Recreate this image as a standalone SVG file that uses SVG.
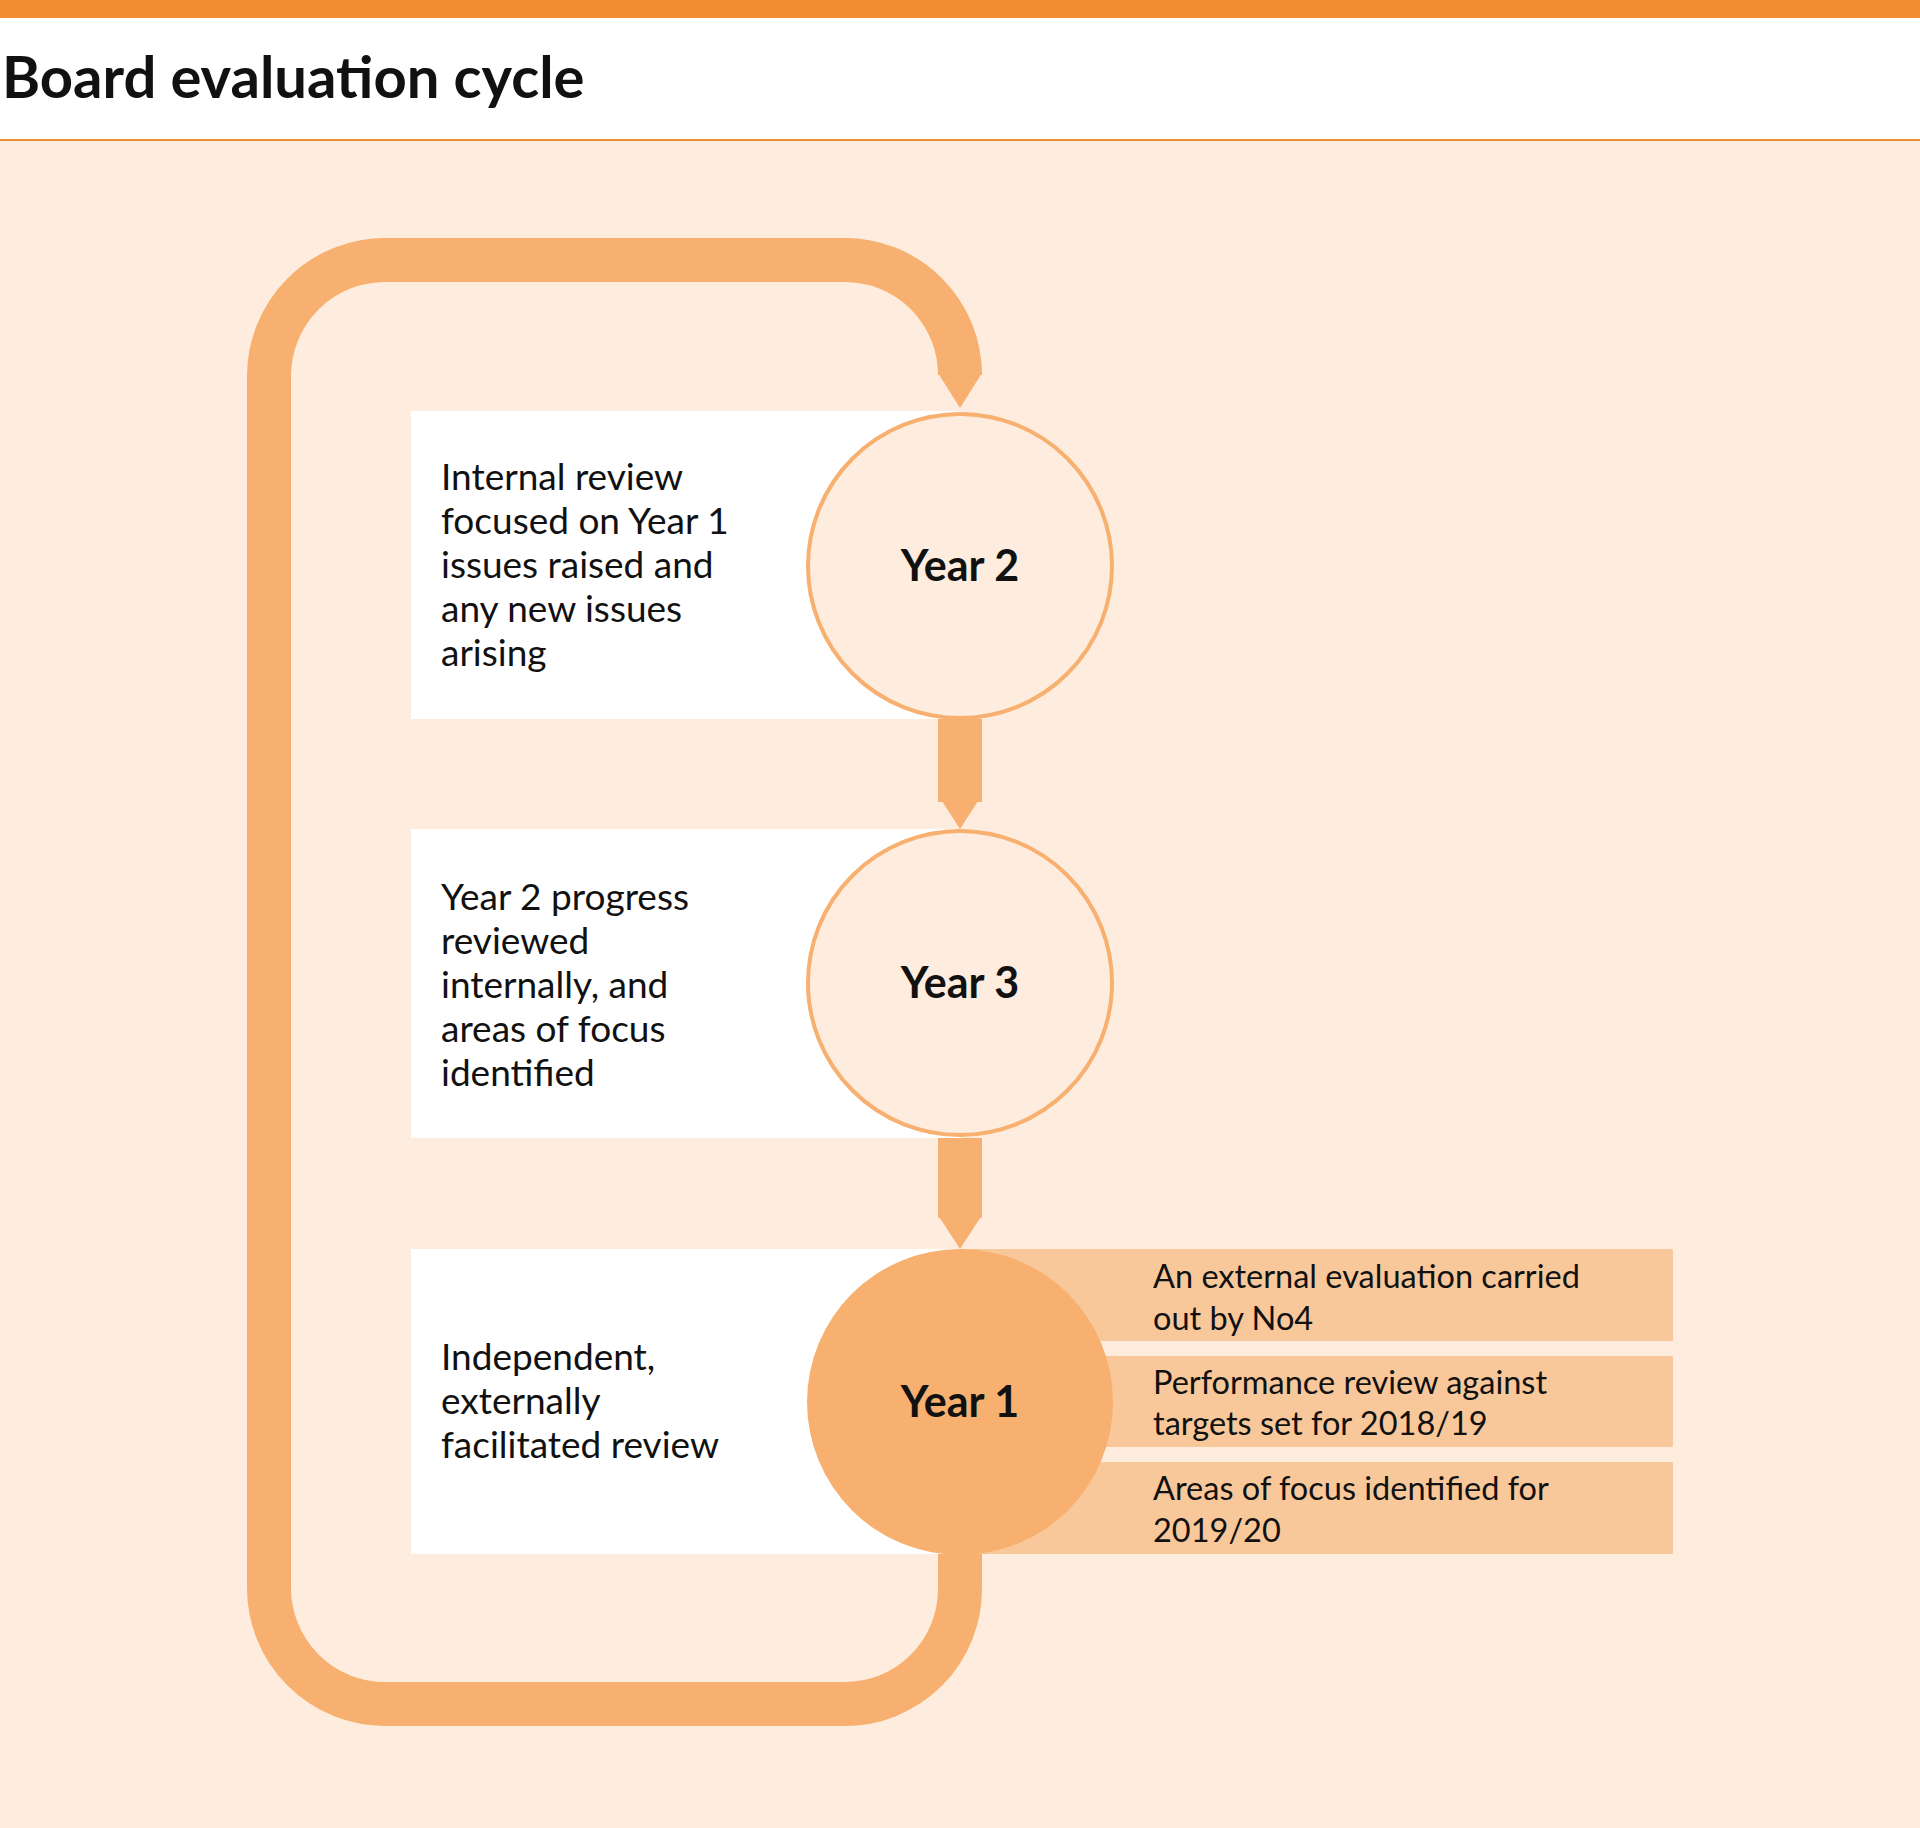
<svg xmlns="http://www.w3.org/2000/svg" width="1920" height="1828" viewBox="0 0 1920 1828">
<style>
.t{font-family:Lato,"Noto Sans",sans-serif;fill:#111}
.l{font-size:37px}
.r{font-size:32.5px}
.c{font-size:43px;font-weight:bold;text-anchor:middle}
.loop{fill:none;stroke:#F7B06F;stroke-width:44}
.ar{fill:#F7B06F}
.box{fill:#fff}
.side{fill:#F9C89A}
</style>
<rect width="1920" height="1828" fill="#fff"/>
<rect y="0" width="1920" height="18" fill="#F28C30"/>
<text x="2" y="98" class="t" style="font-size:58px;font-weight:bold">Board evaluation cycle</text>
<rect y="140" width="1920" height="1688" fill="#FEEDDE"/>
<line x1="0" y1="140" x2="1920" y2="140" stroke="#F28C30" stroke-width="2"/>
<g id="connectors">
<path class="loop" d="M960,1554 V1589 A115,115 0 0 1 845,1704 H385 A116,116 0 0 1 269,1588 V376 A116,116 0 0 1 385,260 H845 A115,115 0 0 1 960,375 V373"/>
<polygon class="ar" points="938,373 982,373 960,408"/>
<rect class="ar" x="938" y="719" width="44" height="83"/>
<polygon class="ar" points="938,795 982,795 960,829"/>
<rect class="ar" x="938" y="1138" width="44" height="80"/>
<polygon class="ar" points="938,1215 982,1215 960,1249"/>
</g>
<g id="box2"><rect class="box" x="411" y="411" width="550" height="308"/>
<text class="t l" x="441"><tspan x="441" y="490">Internal review</tspan><tspan x="441" y="534">focused on Year 1</tspan><tspan x="441" y="578">issues raised and</tspan><tspan x="441" y="622">any new issues</tspan><tspan x="441" y="666">arising</tspan></text></g>
<g id="box3"><rect class="box" x="411" y="829" width="550" height="309"/>
<text class="t l"><tspan x="441" y="910">Year 2 progress</tspan><tspan x="441" y="954">reviewed</tspan><tspan x="441" y="998">internally, and</tspan><tspan x="441" y="1042">areas of focus</tspan><tspan x="441" y="1086">identified</tspan></text></g>
<g id="box1"><rect class="box" x="411" y="1249" width="550" height="305"/>
<text class="t l"><tspan x="441" y="1370">Independent,</tspan><tspan x="441" y="1414">externally</tspan><tspan x="441" y="1458">facilitated review</tspan></text></g>
<g id="side1"><rect class="side" x="960" y="1249" width="713" height="92"/>
<text class="t r"><tspan x="1153" y="1288">An external evaluation carried</tspan><tspan x="1153" y="1330">out by No4</tspan></text></g>
<g id="side2"><rect class="side" x="960" y="1356" width="713" height="91"/>
<text class="t r"><tspan x="1153" y="1394">Performance review against</tspan><tspan x="1153" y="1435">targets set for 2018/19</tspan></text></g>
<g id="side3"><rect class="side" x="960" y="1462" width="713" height="92"/>
<text class="t r"><tspan x="1153" y="1500">Areas of focus identified for</tspan><tspan x="1153" y="1542">2019/20</tspan></text></g>
<g id="year2"><circle cx="960" cy="566" r="152" fill="#FEEDDE" stroke="#F7B06F" stroke-width="4"/><text class="t c" x="960" y="581">Year 2</text></g>
<g id="year3"><circle cx="960" cy="983" r="152" fill="#FEEDDE" stroke="#F7B06F" stroke-width="4"/><text class="t c" x="960" y="998">Year 3</text></g>
<g id="year1"><circle cx="960" cy="1402" r="153" fill="#F7B06F"/><text class="t c" x="960" y="1417">Year 1</text></g>
</svg>
